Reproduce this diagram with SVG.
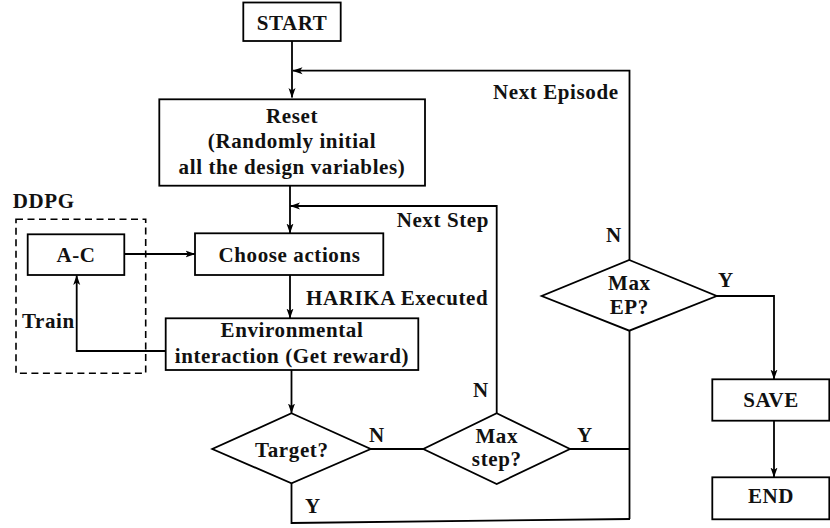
<svg xmlns="http://www.w3.org/2000/svg" width="830" height="528" viewBox="0 0 830 528">
<style>
  .box { fill: #fff; stroke: #000; stroke-width: 1.8; }
  .dash { fill: none; stroke: #000; stroke-width: 1.6; stroke-dasharray: 7 4.5; }
  .ln { fill: none; stroke: #000; stroke-width: 1.8; }
  .t { font-family: "Liberation Serif", "Times New Roman", serif; font-weight: bold; font-size: 21px; letter-spacing: 0.6px; fill: #111; }
  .c { text-anchor: middle; }
</style>
<defs>
  <marker id="arr" viewBox="0 0 10 8" refX="9.5" refY="4" markerWidth="10" markerHeight="8" markerUnits="userSpaceOnUse" orient="auto">
    <path d="M0,0.5 L10,4 L0,7.5 L2.5,4 z" fill="#000"/>
  </marker>
</defs>
<rect width="830" height="528" fill="#fff"/>

<g id="connectors">
  <path class="ln" d="M292,41 V97.5" marker-end="url(#arr)"/>
  <path class="ln" d="M629.5,260 V70.7 H293" marker-end="url(#arr)"/>
  <path class="ln" d="M290,185.7 V233" marker-end="url(#arr)"/>
  <path class="ln" d="M496.7,413.3 V206 H290.5" marker-end="url(#arr)"/>
  <path class="ln" d="M124.3,254 H195" marker-end="url(#arr)"/>
  <path class="ln" d="M290,275 V318" marker-end="url(#arr)"/>
  <path class="ln" d="M165.7,351 H76.7 V275.5" marker-end="url(#arr)"/>
  <path class="ln" d="M291.5,370 V413" marker-end="url(#arr)"/>
  <path class="ln" d="M370.7,449 H423.3"/>
  <path class="ln" d="M570,449 H630"/>
  <path class="ln" d="M629.5,330.7 V519"/>
  <path class="ln" d="M291.5,483.3 V523 L630,519"/>
  <path class="ln" d="M716.7,296 H774 V379" marker-end="url(#arr)"/>
  <path class="ln" d="M774,420.7 V477" marker-end="url(#arr)"/>
</g>

<g id="start">
  <rect class="box" x="243.3" y="2.5" width="97.4" height="38.5"/>
  <text class="t c" x="292" y="30">START</text>
</g>
<g id="reset">
  <rect class="box" x="159.3" y="99.3" width="265.7" height="86.4"/>
  <text class="t c" x="292" y="123">Reset</text>
  <text class="t c" x="292" y="148">(Randomly initial</text>
  <text class="t c" x="292" y="174">all the design variables)</text>
</g>
<g id="ddpg">
  <rect class="dash" x="16" y="219.3" width="129.7" height="154"/>
  <text class="t" x="12.7" y="208.3">DDPG</text>
</g>
<g id="ac">
  <rect class="box" x="27.7" y="234.3" width="96.6" height="40.7"/>
  <text class="t c" x="76" y="261.7">A-C</text>
</g>
<g id="choose">
  <rect class="box" x="195" y="233.3" width="188.3" height="41.7"/>
  <text class="t c" x="289.5" y="261.7">Choose actions</text>
</g>
<g id="env">
  <rect class="box" x="165.7" y="318.3" width="252.6" height="51.7"/>
  <text class="t c" x="292" y="337.3">Environmental</text>
  <text class="t c" x="292" y="363.3">interaction (Get reward)</text>
</g>
<g id="target">
  <polygon class="box" points="291.5,413.3 370.7,449 291.5,483.3 212.3,449"/>
  <text class="t c" x="291.8" y="456.7">Target?</text>
</g>
<g id="maxstep">
  <polygon class="box" points="496.7,413.3 570,449 496.7,484 423.3,449"/>
  <text class="t c" x="496.7" y="443.3">Max</text>
  <text class="t c" x="496.7" y="466">step?</text>
</g>
<g id="maxep">
  <polygon class="box" points="629.3,260 716.7,296 629.3,330.7 541.7,296"/>
  <text class="t c" x="629.3" y="290">Max</text>
  <text class="t c" x="629.3" y="314">EP?</text>
</g>
<g id="save">
  <rect class="box" x="712.3" y="379.3" width="117" height="41.4"/>
  <text class="t c" x="771" y="406.7">SAVE</text>
</g>
<g id="end">
  <rect class="box" x="712.3" y="477.3" width="117" height="42"/>
  <text class="t c" x="771" y="503.3">END</text>
</g>

<g id="labels">
  <text class="t" x="493" y="99">Next Episode</text>
  <text class="t" x="396.7" y="227.3">Next Step</text>
  <text class="t" x="306" y="305">HARIKA Executed</text>
  <text class="t" x="22" y="328.3">Train</text>
  <text class="t" x="606" y="241.7">N</text>
  <text class="t" x="718" y="287.3">Y</text>
  <text class="t" x="369" y="441.7">N</text>
  <text class="t" x="473" y="396.7">N</text>
  <text class="t" x="577" y="441.7">Y</text>
  <text class="t" x="305" y="513">Y</text>
</g>
</svg>
